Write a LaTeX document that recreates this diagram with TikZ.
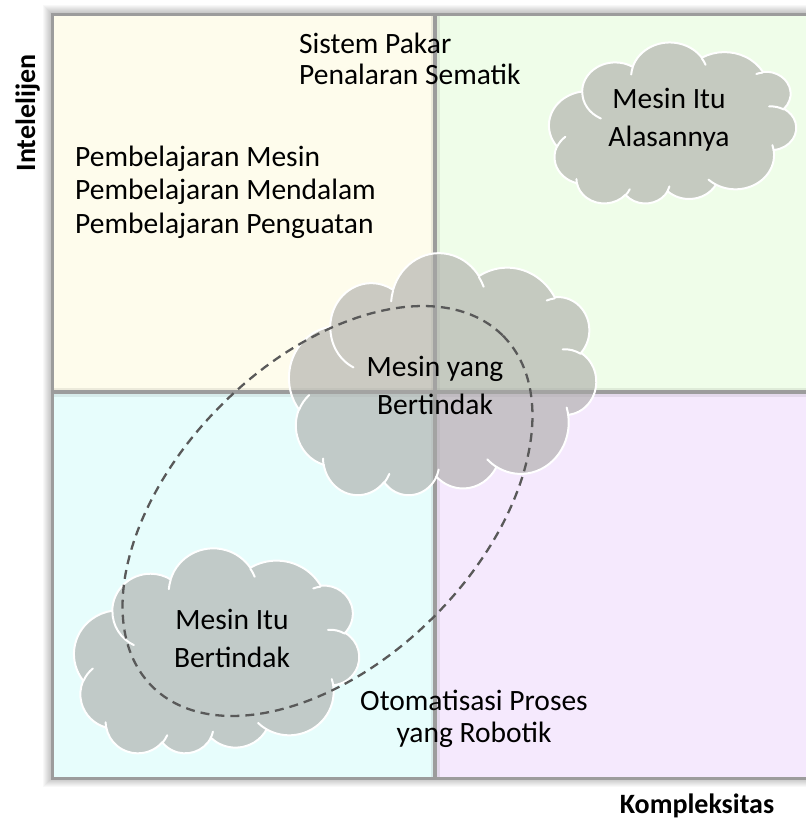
\documentclass[tikz,border=0pt]{standalone}
\usepackage{fontspec}
\setmainfont{Carlito}

\definecolor{qyellow}{HTML}{FEFCEC}
\definecolor{qgreen}{HTML}{EFFDE9}
\definecolor{qcyan}{HTML}{E7FDFC}
\definecolor{qlilac}{HTML}{F5E9FD}
\definecolor{rulegray}{HTML}{9C9C9C}
\definecolor{cloudgray}{HTML}{A9A9A6}
\definecolor{dashgray}{HTML}{595959}

\tikzset{
  lbl/.style={font=\fontsize{29.5}{34}\selectfont, inner sep=0pt, text=black},
  axislbl/.style={font=\fontsize{28}{32}\selectfont\bfseries, inner sep=0pt, text=black},
  cloudbody/.style={fill=cloudgray, fill opacity=0.6, draw=white, line width=2pt, line join=round},
  cloudcrease/.style={draw=white, line width=2pt, line cap=round},
  divider/.style={draw=rulegray, line width=4pt},
  dividershade/.style={draw=black, opacity=0.07, line width=9pt},
  grouping/.style={draw=dashgray, line width=2.3pt, dash pattern=on 9pt off 6pt}
}

% Cloud in a 4320 x 4320 frame, turned half a revolution and fitted to the box
% (#1,#2) -- (#1+#3,#2+#4), given in picture units (y pointing down).
\newcommand{\thoughtcloud}[4]{%
  \begin{scope}[shift={(#1+#3,#2+#4)}, x=1pt, y=1pt, xscale=-#3/4320, yscale=#4/4320]
    \path[cloudbody] (390,1437)
      arc[start angle=-187.746, end angle=-59.665, x radius=675.3, y radius=919]
      arc[start angle=-152.024, end angle=-45.456, x radius=533.3, y radius=726.7]
      arc[start angle=-153.489, end angle=-37.33,  x radius=436.5, y radius=594.5]
      arc[start angle=-139.714, end angle=-10.211, x radius=485.7, y radius=659.5]
      arc[start angle=-74.769,  end angle=23.209,  x radius=533.3, y radius=727.3]
      arc[start angle=-37.53,   end angle=81.862,  x radius=677.5, y radius=922]
      arc[start angle=0.46,     end angle=121.973, x radius=578.5, y radius=786.7]
      arc[start angle=16.845,   end angle=146.239, x radius=675.2, y radius=921.5]
      arc[start angle=58.994,   end angle=150.185, x radius=772,   y radius=1054.3]
      arc[start angle=-276.694, end angle=-136.895, x radius=436,  y radius=591.8]
      arc[start angle=-239.648, end angle=-95.887, x radius=434.5, y radius=594.5]
      -- cycle;
    % creases between the puffs
    \path[cloudcrease] (469.3,2617.7)  arc[start angle=85.547,  end angle=120.352, x radius=434.5, y radius=594.5];
    \path[cloudcrease] (692.8,3489.9)  arc[start angle=68.239,  end angle=83.306,  x radius=436,   y radius=591.8];
    \path[cloudcrease] (1647.8,3909)   arc[start angle=146.239, end angle=158.475, x radius=675.2, y radius=921.5];
    \path[cloudcrease] (2882.7,3475.1) arc[start angle=4.738,   end angle=16.845,  x radius=675.2, y radius=921.5];
    \path[cloudcrease] (3412.9,2295.4) arc[start angle=-64.027, end angle=0.46,    x radius=578.5, y radius=786.7];
    \path[cloudcrease] (4179.8,1535.4) arc[start angle=23.209,  end angle=49.64,   x radius=533.3, y radius=727.3];
    \path[cloudcrease] (3832.4,542.6)  arc[start angle=-10.211, end angle=0.817,   x radius=485.7, y radius=659.5];
    \path[cloudcrease] (2907.8,395.2)  arc[start angle=-156.28, end angle=-139.72, x radius=485.7, y radius=659.5];
    \path[cloudcrease] (2214.1,472)    arc[start angle=-167.726, end angle=-153.489, x radius=436.5, y radius=594.5];
    \path[cloudcrease] (1400,519.2)    arc[start angle=-59.665, end angle=-45.738, x radius=675.3, y radius=919];
    \path[cloudcrease] (412.7,1578.9)  arc[start angle=163.193, end angle=172.254, x radius=675.3, y radius=919];
  \end{scope}}

\begin{document}
\begin{tikzpicture}[x=1pt,y=-1pt]
  \useasboundingbox (0,0) rectangle (806,823);
  \clip (0,0) rectangle (806,823);
  \fill[white] (0,0) rectangle (806,823);

  % soft shadow round the quadrant panel
  \foreach \i in {1,...,9}
    \fill[black, opacity=0.028] (52-\i,14-\i) rectangle (830,778+\i);

  % the four quadrants
  \fill[qyellow] (52,14)  rectangle (435,392);
  \fill[qgreen]  (435,14) rectangle (830,392);
  \fill[qcyan]   (52,392) rectangle (435,778);
  \fill[qlilac]  (435,392) rectangle (830,778);

  % frame and axes between the quadrants
  \coordinate (vtop) at (435,14);
  \coordinate (vbot) at (435,778);
  \coordinate (hleft) at (52,392);
  \coordinate (hright) at (830,392);
  \draw[dividershade] (vtop) -- (vbot);
  \draw[dividershade] (hleft) -- (hright);
  \draw[draw=rulegray, line width=3pt] (830,14) -- (52,14) -- (52,778) -- (830,778);
  \draw[divider] (vtop) -- (vbot);
  \draw[divider] (hleft) -- (hright);

  % quadrant texts
  \node[lbl, anchor=base west] (sp1) at (299,53) {Sistem Pakar};
  \node[lbl, anchor=base west] (sp2) at (299,84) {Penalaran Sematik};
  \node[lbl, anchor=base west] (pm1) at (75,166) {Pembelajaran Mesin};
  \node[lbl, anchor=base west] (pm2) at (75,199.5) {Pembelajaran Mendalam};
  \node[lbl, anchor=base west] (pm3) at (75,233) {Pembelajaran Penguatan};
  \node[lbl, anchor=base] (rp1) at (474,710) {Otomatisasi Proses};
  \node[lbl, anchor=base] (rp2) at (474,742.7) {yang Robotik};

  % clouds
  \thoughtcloud{549}{43}{247}{161}
  \thoughtcloud{289}{254}{307}{242}
  \thoughtcloud{74}{549}{285}{205}

  \node[lbl, anchor=base] (tr1) at (669,108) {Mesin Itu};
  \node[lbl, anchor=base] (tr2) at (669,146.5) {Alasannya};
  \node[lbl, anchor=base] (ce1) at (435,376.7) {Mesin yang};
  \node[lbl, anchor=base] (ce2) at (435,414) {Bertindak};
  \node[lbl, anchor=base] (bl1) at (232,629.3) {Mesin Itu};
  \node[lbl, anchor=base] (bl2) at (232,667.3) {Bertindak};

  % dashed grouping ellipse
  \draw[grouping, shift={(327.5,511)}, rotate=45] (0,0) ellipse[x radius=248, y radius=150];

  % axis titles
  \node[axislbl, rotate=90, anchor=base] (ylab) at (35,113) {Intelelijen};
  \node[axislbl, anchor=base] (xlab) at (697,813) {Kompleksitas};
\end{tikzpicture}
\end{document}
